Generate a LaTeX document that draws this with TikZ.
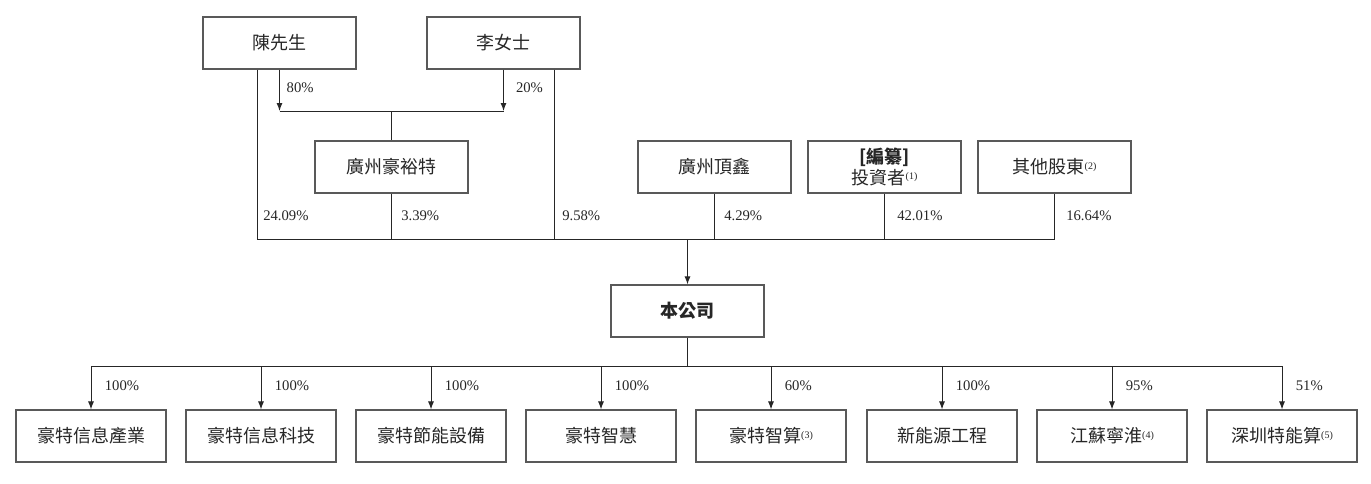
\documentclass[tikz,border=0pt]{standalone}
\usepackage{fontspec}
\setmainfont{Liberation Serif}
\newfontfamily\cjk{Noto Sans CJK TC}
\usetikzlibrary{arrows.meta,calc}
\newcommand\fnote[1]{\raisebox{0.45ex}{\rmfamily\fontsize{7.5}{8}\selectfont(#1)}}
\tikzset{
  entity/.style={draw=black!65, line width=0.8pt, minimum width=114.75pt, minimum height=39pt,
    inner sep=0pt, align=center, font=\cjk\fontsize{13.5}{15}\selectfont, text=black!85},
  subsid/.style={entity, minimum width=112.5pt},
  pct/.style={anchor=west, inner sep=0pt, font=\fontsize{11}{13}\selectfont, text=black!85},
  link/.style={line width=0.75pt, black!85},
  arr/.style={link, -{Latex[length=6pt,width=4.5pt]}}
}
\begin{document}
\begin{tikzpicture}[x=0.75pt,y=-0.75pt]
\useasboundingbox (0,0) rectangle (1371,483);
% shareholders
\node[entity] (chen) at (279.5,43) {陳先生};
\node[entity] (li) at (503.5,43) {李女士};
\node[entity] (hyt) at (391.5,167) {廣州豪裕特};
\node[entity] (dx) at (714.5,167) {廣州頂鑫};
\node[entity, font=\cjk\fontsize{13.5}{15.5}\selectfont] (inv) at (884.5,167) {\textbf{[編纂]}\\投資者\fnote{1}};
\node[entity] (oth) at (1054.5,167) {其他股東\fnote{2}};
\node[entity, font=\cjk\bfseries\fontsize{13.5}{15}\selectfont] (co) at (687.5,311) {本公司};
%holding of hyt
\coordinate (jhyt) at (391.5,111);
\draw[arr] (chen.south) -- (chen.south |- jhyt) node[pct, pos=0.45, xshift=5pt] {80\%};
\draw[arr] (li.south) -- (li.south |- jhyt) node[pct, pos=0.45, xshift=9pt] {20\%};
\draw[link] (chen.south |- jhyt) -- (li.south |- jhyt);
\draw[link] (jhyt) -- (hyt.north);
%holding of the company
\coordinate (bus) at (687.5,239);
\draw[link] ($(chen.south)+(-22.5,0)$) coordinate (cd) -- (cd |- bus) -- (oth.south |- bus) -- (oth.south);
\draw[link] ($(li.south)+(50.5,0)$) coordinate (ld) -- (ld |- bus);
\draw[link] (hyt.south) -- (hyt.south |- bus);
\draw[link] (dx.south) -- (dx.south |- bus);
\draw[link] (inv.south) -- (inv.south |- bus);
\node[pct] at (263,216) {24.09\%};
\node[pct] at (401,216) {3.39\%};
\node[pct] at (562,216) {9.58\%};
\node[pct] at (724,216) {4.29\%};
\node[pct] at (897,216) {42.01\%};
\node[pct] at (1066,216) {16.64\%};
\draw[arr] (bus) -- (co.north);
% subsidiaries
\foreach \i/\x/\name in {1/91/豪特信息產業, 2/261/豪特信息科技, 3/431/豪特節能設備, 4/601/豪特智慧,
    5/771/豪特智算\fnote{3}, 6/942/新能源工程, 7/1112/江蘇寧淮\fnote{4}, 8/1282/深圳特能算\fnote{5}}
  \node[subsid] (s\i) at (\x,436) {\name};
\coordinate (cbus) at (687.5,366);
\draw[link] (co.south) -- (cbus);
\draw[link] (s1.north |- cbus) -- (s8.north |- cbus);
\foreach \i/\p in {1/100,2/100,3/100,4/100,5/60,6/100,7/95,8/51}
  \draw[arr] (s\i.north |- cbus) -- (s\i.north) node[pct, pos=0.45, xshift=10pt] {\p\%};
\end{tikzpicture}
\end{document}
